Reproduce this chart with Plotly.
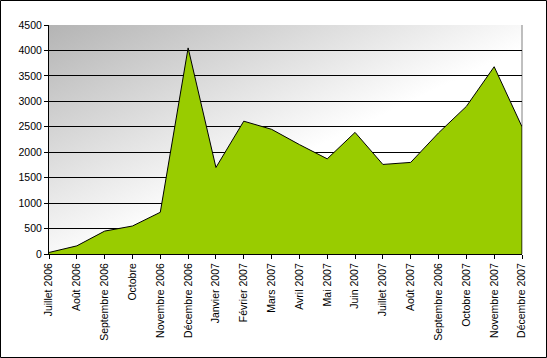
import base64
import plotly.graph_objects as go

months = ["Juillet 2006", "Août 2006", "Septembre 2006", "Octobre", "Novembre 2006",
          "Décembre 2006", "Janvier 2007", "Février 2007", "Mars 2007", "Avril 2007",
          "Mai 2007", "Juin 2007", "Juillet 2007", "Août 2007", "Septembre 2006",
          "Octobre 2007", "Novembre 2007", "Décembre 2007"]
values = [30, 160, 450, 550, 820, 4050, 1700, 2610, 2450, 2150, 1870, 2390, 1760, 1800,
          2380, 2900, 3680, 2500]
y_ticks = [0, 500, 1000, 1500, 2000, 2500, 3000, 3500, 4000, 4500]

idx = list(range(len(months)))
FONT = dict(family="Liberation Sans, Arial, sans-serif", size=10.5, color="black")

svg = ('<svg xmlns="http://www.w3.org/2000/svg" width="473" height="229" viewBox="0 0 473 229" '
       'preserveAspectRatio="none"><defs><linearGradient id="g" x1="0" y1="0" x2="1" y2="1">'
       '<stop offset="0" stop-color="#b4b4b4"/><stop offset="0.55" stop-color="#ffffff"/>'
       '<stop offset="1" stop-color="#ffffff"/></linearGradient></defs>'
       '<rect width="473" height="229" fill="url(#g)"/></svg>')
svg_uri = "data:image/svg+xml;base64," + base64.b64encode(svg.encode()).decode()

fig = go.Figure()
fig.add_trace(go.Scatter(x=idx, y=values, mode="lines", fill="tozeroy",
                         fillcolor="#99cc00", line=dict(color="black", width=1),
                         hoverinfo="skip", showlegend=False))
fig.add_trace(go.Scatter(x=[idx[-1], idx[-1]], y=[0, values[-1]], mode="lines",
                         line=dict(color="black", width=1), hoverinfo="skip", showlegend=False))

W, H = 547, 358
L, R, T, B = 49, 25, 25, 104
pw, ph = W - L - R, H - T - B

fig.update_layout(
    width=W, height=H,
    margin=dict(l=L, r=R, t=T, b=B),
    paper_bgcolor="white", plot_bgcolor="white",
    font=FONT,
    images=[dict(source=svg_uri, xref="paper", yref="paper", x=0, y=1, sizex=1, sizey=1,
                 xanchor="left", yanchor="top", sizing="stretch", layer="below")],
    xaxis=dict(range=[0, len(months) - 1], tickmode="array", tickvals=idx, ticktext=months,
               tickangle=-90, ticks="outside", ticklen=4, tickcolor="black",
               showline=True, linecolor="black", linewidth=1, showgrid=False,
               zeroline=False, tickfont=FONT, automargin=False),
    yaxis=dict(range=[0, 4500], tickmode="array", tickvals=y_ticks,
               ticks="outside", ticklen=4, tickcolor="black",
               showline=True, linecolor="black", linewidth=1,
               showgrid=True, gridcolor="black", gridwidth=1,
               zeroline=False, tickfont=FONT, automargin=False),
    shapes=[
        dict(type="line", xref="paper", yref="paper", x0=1, x1=1, y0=0, y1=1,
             line=dict(color="#808080", width=1), layer="below"),
        dict(type="rect", xref="paper", yref="paper",
             x0=-(L - 0.5) / pw, x1=(W - L - 0.5) / pw,
             y0=-(B - 0.5) / ph, y1=(ph + T - 0.5) / ph,
             line=dict(color="black", width=1), fillcolor="rgba(0,0,0,0)", layer="above"),
    ],
)

fig.write_html("out.html", config={"displayModeBar": False},
               post_script="document.body.style.margin='0';document.body.style.overflow='hidden';")
